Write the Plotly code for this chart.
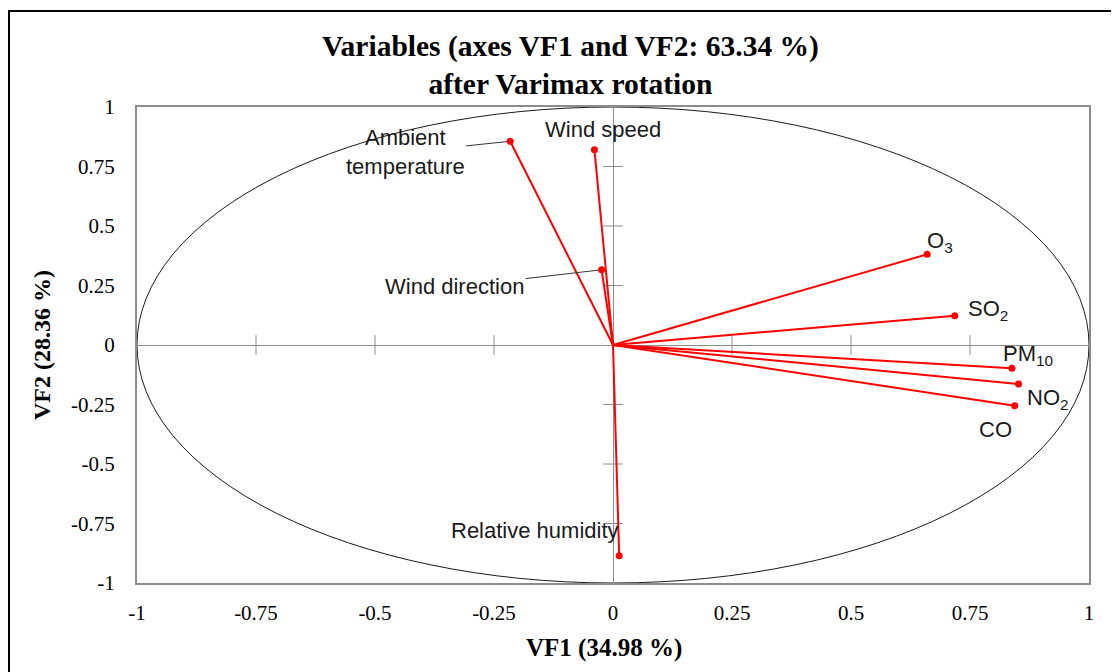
import plotly.graph_objects as go

# ---- data ----
variables = ["Ambient<br>temperature", "Wind speed", "Wind direction", "O<sub>3</sub>",
             "SO<sub>2</sub>", "PM<sub>10</sub>", "NO<sub>2</sub>", "CO", "Relative humidity"]
vf1 = [-0.216, -0.039, -0.024, 0.660, 0.718, 0.838, 0.852, 0.844, 0.013]
vf2 = [0.856, 0.820, 0.316, 0.381, 0.123, -0.098, -0.164, -0.255, -0.885]
tick_vals = [-1, -0.75, -0.5, -0.25, 0, 0.25, 0.5, 0.75, 1]
tick_text = ["-1", "-0.75", "-0.5", "-0.25", "0", "0.25", "0.5", "0.75", "1"]
inner_ticks = [-0.75, -0.5, -0.25, 0.25, 0.5, 0.75]

# label placement (pixel offsets from point), leader line flag
label_dx = [-105, 9, -147, 13, 33, 16, 29, -19, -84]
label_dy = [11, -20, 17, -12, -6, -13, 15, 24, -25]
leader = [True, False, True, False, False, False, False, False, False]

LABEL_FONT = dict(family="Liberation Sans", size=22, color="#1a1a1a")
GRAY = "#8c8c8c"

fig = go.Figure()

# zero-line tick marks
fig.add_trace(go.Scatter(x=inner_ticks, y=[0] * len(inner_ticks), mode="markers",
                         marker=dict(symbol="line-ns-open", size=14, color=GRAY,
                                     line=dict(color=GRAY, width=1)),
                         hoverinfo="skip", showlegend=False))
fig.add_trace(go.Scatter(x=[0] * len(inner_ticks), y=inner_ticks, mode="markers",
                         marker=dict(symbol="line-ew-open", size=14, color=GRAY,
                                     line=dict(color=GRAY, width=1)),
                         hoverinfo="skip", showlegend=False))

# vectors
xs, ys = [], []
for a, b in zip(vf1, vf2):
    xs += [0, a, None]
    ys += [0, b, None]
fig.add_trace(go.Scatter(x=xs, y=ys, mode="lines", line=dict(color="#ff0000", width=2),
                         hoverinfo="skip", showlegend=False))
fig.add_trace(go.Scatter(x=vf1, y=vf2, mode="markers", marker=dict(color="#ff0000", size=7),
                         text=variables, hoverinfo="text", showlegend=False))

# correlation circle
fig.add_shape(type="circle", xref="x", yref="y", x0=-1, y0=-1, x1=1, y1=1,
              line=dict(color="#1a1a1a", width=1), layer="below")

# labels
for name, a, b, dx, dy, ld in zip(variables, vf1, vf2, label_dx, label_dy, leader):
    if ld:
        fig.add_annotation(x=a, y=b, text=name, showarrow=True, ax=dx, ay=dy,
                           arrowhead=0, arrowwidth=1, arrowcolor="#333", standoff=3,
                           font=LABEL_FONT, align="center")
    else:
        fig.add_annotation(x=a, y=b, text=name, showarrow=False, xshift=dx, yshift=-dy,
                           font=LABEL_FONT)

# title & axis titles
fig.add_annotation(xref="paper", yref="paper", x=(570 - 137) / 952, y=1.0 + 42 / 476,
                   yanchor="middle",
                   text="<b>Variables (axes VF1 and VF2: 63.34 %)<br>after Varimax rotation</b>",
                   showarrow=False, font=dict(family="Liberation Serif", size=29.5, color="black"))
fig.add_annotation(xref="paper", yref="paper", x=(604 - 137) / 952, y=-65 / 476, yanchor="middle",
                   text="<b>VF1 (34.98 %)</b>", showarrow=False,
                   font=dict(family="Liberation Serif", size=25, color="black"))
fig.add_annotation(xref="paper", yref="paper", x=-95 / 952, y=0.5, xanchor="center",
                   text="<b>VF2 (28.36 %)</b>", showarrow=False, textangle=-90,
                   font=dict(family="Liberation Serif", size=24, color="black"))

# outer chart border
fig.add_shape(type="rect", xref="paper", yref="paper", x0=-128 / 952, y0=-0.3, x1=1.1,
              y1=(583 - 11) / 476, line=dict(color="black", width=2), layer="below")

axis_common = dict(range=[-1, 1], tickvals=tick_vals, ticktext=tick_text, showgrid=False,
                   zeroline=True, zerolinecolor=GRAY, zerolinewidth=1,
                   showline=True, mirror=True, linecolor=GRAY, linewidth=2,
                   ticks="", tickfont=dict(family="Liberation Serif", size=21, color="black"))

fig.update_layout(
    width=1111, height=664,
    margin=dict(l=129, r=30, t=99, b=89),
    plot_bgcolor="white", paper_bgcolor="white",
    xaxis=dict(**axis_common, ticklabelstandoff=10),
    yaxis=dict(**axis_common, ticklabelstandoff=16),
    showlegend=False,
)

fig.write_html("out.html")
